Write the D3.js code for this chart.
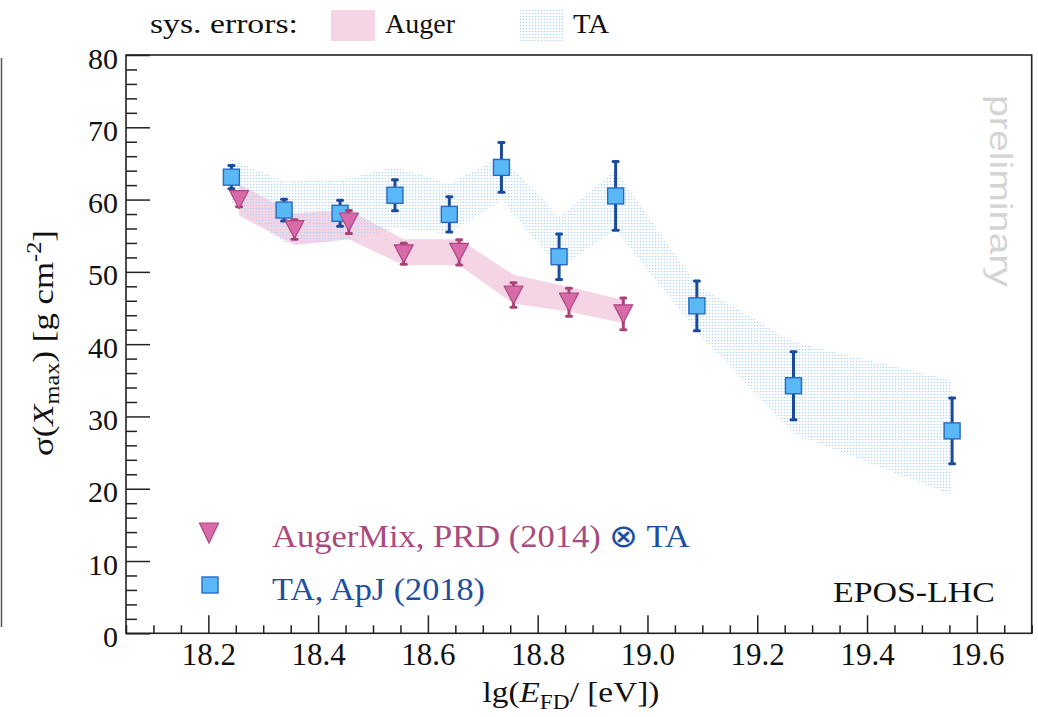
<!DOCTYPE html>
<html>
<head>
<meta charset="utf-8">
<script src="https://cdn.jsdelivr.net/npm/d3@7"></script>
<style>
  body { margin: 0; background: #fff; }
  svg { display: block; }
  .serif { font-family: "Liberation Serif", "Times New Roman", Times, serif; }
  .sans { font-family: "Liberation Sans", Arial, Helvetica, sans-serif; }
</style>
</head>
<body>
<svg id="chart" width="1038" height="717"></svg>
<script>
// ---- data: sigma(Xmax) vs lg(E) ----
const taEnergy   = [18.242, 18.338, 18.440, 18.540, 18.639, 18.734, 18.839, 18.942, 19.090, 19.266, 19.555];
const taSigma    = [63.1, 58.55, 58.1, 60.6, 57.95, 64.45, 52.1, 60.5, 45.3, 34.25, 28.0];
const taStatErr  = [1.6, 1.5, 1.8, 2.15, 2.45, 3.45, 3.15, 4.75, 3.45, 4.7, 4.55];
const taSysHigh  = [65.6, 62.5, 62.7, 64.5, 62.2, 65.9, 57.6, 64.1, 48.2, 40.3, 35.0];
const taSysLow   = [59.5, 54.0, 54.2, 56.05, 55.3, 59.9, 50.5, 55.8, 41.7, 27.65, 19.1];

const augerEnergy  = [18.256, 18.357, 18.456, 18.556, 18.657, 18.756, 18.857, 18.956];
const augerSigma   = [60.0, 55.85, 56.9, 52.5, 52.7, 46.8, 45.8, 44.2];
const augerStatErr = [1.0, 1.35, 1.6, 1.45, 1.75, 1.7, 1.95, 2.2];
const augerSysHigh = [62.1, 58.1, 58.55, 54.5, 54.5, 49.6, 47.9, 46.1];
const augerSysLow  = [57.8, 53.7, 54.5, 50.9, 50.9, 45.6, 44.5, 42.9];

const xTickValues = [18.2, 18.4, 18.6, 18.8, 19.0, 19.2, 19.4, 19.6];
const yTickValues = [0, 10, 20, 30, 40, 50, 60, 70, 80];

// ---- styling ----
const C = {
  frame: "#222",
  augerFill: "#d96aaa", augerStroke: "#ad4580", augerErr: "#a84374", augerBand: "#f4d4e5", augerText: "#a94a7e",
  taFill: "#5ab8f7", taStroke: "#2b6ac4", taErr: "#1a4a9b", taDot: "#b3d5f3", taText: "#1d4f9f"
};

const svg = d3.select("#chart");
const x = d3.scaleLinear().domain([18.05, 19.7]).range([126, 1031.7]);
const y = d3.scaleLinear().domain([0, 80]).range([633.3, 55]);

const defs = svg.append("defs");
defs.append("pattern")
  .attr("id", "taDots").attr("width", 3).attr("height", 3)
  .attr("patternUnits", "userSpaceOnUse")
  .append("circle").attr("cx", 1.5).attr("cy", 1.5).attr("r", 0.8).attr("fill", C.taDot);

const taRows = taEnergy.map((e, i) => ({ e, v: taSigma[i], err: taStatErr[i], hi: taSysHigh[i], lo: taSysLow[i] }));
const augerRows = augerEnergy.map((e, i) => ({ e, v: augerSigma[i], err: augerStatErr[i], hi: augerSysHigh[i], lo: augerSysLow[i] }));

// ---- systematic bands ----
const band = d3.area().x(d => x(d.e)).y0(d => y(d.lo)).y1(d => y(d.hi));
svg.append("path").datum(augerRows).attr("d", band).attr("fill", C.augerBand);
svg.append("path").datum(taRows).attr("d", band).attr("fill", "url(#taDots)");

// ---- error bars ----
function errorBars(rows, color) {
  const g = svg.append("g").attr("stroke", color).attr("stroke-width", 3);
  g.selectAll("line.bar").data(rows).join("line").attr("class", "bar")
    .attr("x1", d => x(d.e)).attr("x2", d => x(d.e))
    .attr("y1", d => y(d.v + d.err)).attr("y2", d => y(d.v - d.err));
  const caps = rows.flatMap(d => [d.v + d.err, d.v - d.err].map(v => ({ e: d.e, v })));
  g.selectAll("line.cap").data(caps).join("line").attr("class", "cap")
    .attr("stroke-linecap", "round")
    .attr("x1", d => x(d.e) - 2.5).attr("x2", d => x(d.e) + 2.5)
    .attr("y1", d => y(d.v)).attr("y2", d => y(d.v));
}

const triPath = (cx, cy, sx, sy) => `M${cx - sx},${cy - sy}L${cx + sx},${cy - sy}L${cx},${cy + sy}Z`;

errorBars(taRows, C.taErr);
svg.append("g").selectAll("rect").data(taRows).join("rect")
  .attr("x", d => x(d.e) - 8).attr("y", d => y(d.v) - 8)
  .attr("width", 16).attr("height", 16)
  .attr("fill", C.taFill).attr("stroke", C.taStroke).attr("stroke-width", 1.4);

errorBars(augerRows, C.augerErr);
svg.append("g").selectAll("path").data(augerRows).join("path")
  .attr("d", d => triPath(x(d.e), y(d.v), 9.5, 9))
  .attr("fill", C.augerFill).attr("stroke", C.augerStroke).attr("stroke-width", 1.2)
  .attr("stroke-linejoin", "round");

// ---- axes ----
const yMinor = d3.range(0, 81, 2).filter(v => v % 10 !== 0);
const xMinor = d3.range(18.05, 19.7001, 0.05).filter(v => Math.abs(v / 0.2 - Math.round(v / 0.2)) > 1e-6);

const yAxis = svg.append("g").attr("transform", `translate(${x.range()[0]},0)`)
  .call(d3.axisLeft(y).tickValues(yTickValues).tickSizeInner(-24).tickSizeOuter(0).tickPadding(8).tickFormat(d3.format("d")));
const yAxisMinor = svg.append("g").attr("transform", `translate(${x.range()[0]},0)`)
  .call(d3.axisLeft(y).tickValues(yMinor).tickSize(-11).tickFormat(""));
const xAxis = svg.append("g").attr("transform", `translate(0,${y.range()[0]})`)
  .call(d3.axisBottom(x).tickValues(xTickValues).tickSizeInner(-18).tickSizeOuter(0).tickFormat(d3.format(".1f")));
const xAxisMinor = svg.append("g").attr("transform", `translate(0,${y.range()[0]})`)
  .call(d3.axisBottom(x).tickValues(xMinor).tickSize(-8).tickFormat(""));

[yAxis, yAxisMinor, xAxis, xAxisMinor].forEach(a => {
  a.select(".domain").remove();
  a.selectAll("line").attr("stroke", C.frame).attr("stroke-width", 1.5);
  a.attr("font-family", null).attr("font-size", 30).attr("class", "serif");
});
yAxis.selectAll("text").attr("fill", "#111").attr("dy", 13);
xAxis.selectAll("text").attr("fill", "#111").attr("y", 0).attr("dy", 32).attr("font-size", 31);

// frame
svg.append("rect")
  .attr("x", x.range()[0]).attr("y", y.range()[1])
  .attr("width", x.range()[1] - x.range()[0]).attr("height", y.range()[0] - y.range()[1])
  .attr("fill", "none").attr("stroke", C.frame).attr("stroke-width", 1.6);

// neighbouring pad edge on the far left
svg.append("line").attr("x1", 1.5).attr("x2", 1.5).attr("y1", 58).attr("y2", 627)
  .attr("stroke", "#555").attr("stroke-width", 1.5);

// ---- text helper: places text and stretches it to a given advance width ----
function fittedText(opts) {
  const { x0, y0, rotate = 0, width, anchor = "start", size, color = "#111", family = "serif", build } = opts;
  const g = svg.append("g").attr("transform", `translate(${x0},${y0}) rotate(${rotate})`);
  const inner = g.append("g");
  const t = inner.append("text").attr("class", family).attr("font-size", size).attr("fill", color);
  build(t);
  const w = t.node().getComputedTextLength();
  const k = width / w;
  const off = anchor === "middle" ? -width / 2 : anchor === "end" ? -width : 0;
  inner.attr("transform", `translate(${off},0) scale(${k},1)`);
  return t;
}

// axis titles
fittedText({ x0: 571, y0: 702, width: 177, anchor: "middle", size: 30, build: t => {
  t.append("tspan").text("lg(");
  t.append("tspan").attr("font-style", "italic").text("E");
  t.append("tspan").attr("font-size", "0.7em").attr("dy", 7).text("FD");
  t.append("tspan").attr("dy", -7).text("/ [eV])");
}});
fittedText({ x0: 53, y0: 343, rotate: -90, width: 226, anchor: "middle", size: 30, build: t => {
  t.append("tspan").text("σ(");
  t.append("tspan").attr("font-style", "italic").text("X");
  t.append("tspan").attr("font-size", "0.7em").attr("dy", 6).text("max");
  t.append("tspan").attr("dy", -6).text(") [g cm");
  t.append("tspan").attr("font-size", "0.7em").attr("dy", -12).text("-2");
  t.append("tspan").attr("dy", 12).text("]");
}});

// top legend: systematic errors
fittedText({ x0: 150, y0: 33, width: 148, size: 28, build: t => t.text("sys. errors:") });
svg.append("rect").attr("x", 331).attr("y", 10).attr("width", 44).attr("height", 31).attr("fill", C.augerBand);
fittedText({ x0: 385, y0: 33, width: 70, size: 28, build: t => t.text("Auger") });
svg.append("rect").attr("x", 520).attr("y", 10).attr("width", 43).attr("height", 31).attr("fill", "url(#taDots)");
fittedText({ x0: 573, y0: 33, width: 36, size: 28, build: t => t.text("TA") });

// bottom legend
svg.append("path").attr("d", triPath(209, 533, 9.5, 10))
  .attr("fill", C.augerFill).attr("stroke", C.augerStroke).attr("stroke-width", 1.2);
fittedText({ x0: 272, y0: 547, width: 418, size: 32, build: t => {
  t.append("tspan").attr("fill", C.augerText).text("AugerMix, PRD (2014) ");
  t.append("tspan").attr("fill", C.taText).text("⊗ TA");
}});
svg.append("rect").attr("x", 202).attr("y", 577).attr("width", 16).attr("height", 16)
  .attr("fill", C.taFill).attr("stroke", C.taStroke).attr("stroke-width", 1.4);
fittedText({ x0: 272, y0: 600, width: 213, size: 32, color: C.taText, build: t => t.text("TA, ApJ (2018)") });

// model label and watermark
fittedText({ x0: 833, y0: 602, width: 162, size: 30, build: t => t.text("EPOS-LHC") });
fittedText({ x0: 990, y0: 95, rotate: 90, width: 192, size: 31, color: "#d4d4d4", family: "sans", build: t => t.text("preliminary") });
</script>
</body>
</html>
